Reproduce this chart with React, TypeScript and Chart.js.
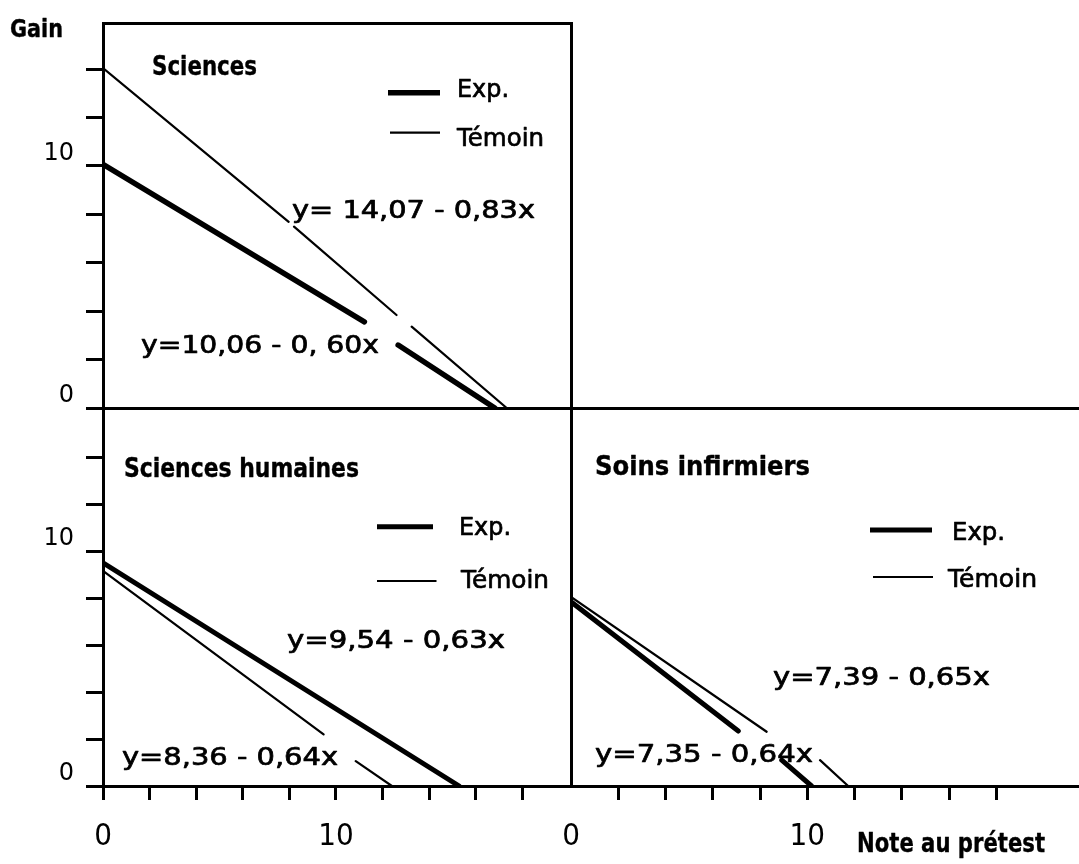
import React, { useEffect, useRef } from "react";
import { Chart, registerables } from "chart.js";

Chart.register(...registerables);

// ---------- data ----------
const SERIES_LABELS = ["Exp.", "Témoin"];
const PANEL_TITLES = ["Sciences", "Sciences humaines", "Soins infirmiers"];
const Y_AXIS_TITLE = "Gain";
const X_AXIS_TITLE = "Note au prétest";
const X_TICK_LABELS = [0, 10];
const Y_TICK_LABELS = [0, 10];

const SCI_EQUATIONS = ["y= 14,07 - 0,83x", "y=10,06 - 0, 60x"];
const HUM_EQUATIONS = ["y=9,54 - 0,63x", "y=8,36 - 0,64x"];
const SOI_EQUATIONS = ["y=7,39 - 0,65x", "y=7,35 - 0,64x"];

// Sciences
const SCI_EXP_X = [0, 11.22, 11.95, 12.67, 16.82];
const SCI_EXP_Y = [10.06, 3.56, null, 2.6, 0];
const SCI_TEM_X = [0, 7.97, 8.08, 8.2, 12.6, 12.92, 13.25, 17.33];
const SCI_TEM_Y = [14.04, 7.69, null, 7.49, 3.84, null, 3.36, 0];
// Sciences humaines
const HUM_EXP_X = [0, 15.29];
const HUM_EXP_Y = [9.5, 0];
const HUM_TEM_X = [0, 9.47, 10.16, 10.85, 12.4];
const HUM_TEM_Y = [9.16, 2.2, null, 1.06, 0];
// Soins infirmiers
const SOI_EXP_X = [0, 7.08, 8.0, 8.92, 10.18];
const SOI_EXP_Y = [7.84, 2.34, null, 1.1, 0];
const SOI_TEM_X = [0, 8.28, 9.41, 10.54, 11.73];
const SOI_TEM_Y = [8.05, 2.31, null, 1.1, 0];

// ---------- styles / layout ----------
const FONT = "'DejaVu Sans', sans-serif";
const X_TICK_FONT = "'DejaVu Sans Condensed', 'DejaVu Sans', sans-serif";
const Y_TICK_FONT = "'DejaVu Sans', sans-serif";
const BLACK = "#000";

const panelTextPlugin = {
  id: "panelText",
  afterDraw(chart: any, _args: any, opts: any) {
    const ctx = chart.ctx;
    const ox = opts.offsetX || 0;
    const oy = opts.offsetY || 0;
    ctx.save();
    ctx.fillStyle = BLACK;
    ctx.strokeStyle = BLACK;
    ctx.textBaseline = "alphabetic";
    ctx.textAlign = "left";
    const drawText = (text: string, x: number, base: number, w: number, size: number, bold: boolean, heavy: number) => {
      ctx.font = `${bold ? "bold " : ""}${size}px ${FONT}`;
      const m = ctx.measureText(text).width || 1;
      ctx.save();
      ctx.translate(x - ox, base - oy);
      ctx.scale(w / m, 1);
      ctx.fillText(text, 0, 0);
      if (heavy > 0) {
        ctx.lineWidth = heavy;
        ctx.lineJoin = "round";
        ctx.strokeText(text, 0, 0);
      }
      ctx.restore();
    };
    (opts.items || []).forEach((it: any) =>
      drawText(it.text, it.x, it.base, it.w, it.size, !!it.bold, it.heavy || 0)
    );
    const lg = opts.legend;
    if (lg) {
      chart.data.datasets.forEach((ds: any, i: number) => {
        const ln = lg.lines[i];
        const tx = lg.texts[i];
        ctx.beginPath();
        ctx.lineWidth = ds.borderWidth;
        ctx.strokeStyle = ds.borderColor;
        ctx.lineCap = "butt";
        ctx.moveTo(ln.x1 - ox, ln.y - oy);
        ctx.lineTo(ln.x2 - ox, ln.y - oy);
        ctx.stroke();
        drawText(ds.label, tx.x, tx.base, tx.w, lg.size, false, 0.7);
      });
    }
    ctx.restore();
  },
};

const zeroPad = (s: any) => {
  s.paddingLeft = 0;
  s.paddingRight = 0;
  s.paddingTop = 0;
  s.paddingBottom = 0;
};

const makeDataset = (label: string, xs: number[], ys: (number | null)[], width: number) => ({
  label,
  data: xs.map((x, i) => ({ x, y: ys[i] })),
  borderColor: BLACK,
  borderWidth: width,
  pointRadius: 0,
  pointHoverRadius: 0,
  fill: false,
  tension: 0,
  spanGaps: false,
  borderCapStyle: "round",
  borderJoinStyle: "round",
});

function buildConfig(p: any) {
  const scales: any = {
    x: {
      type: "linear",
      position: "bottom",
      min: 0,
      max: p.xMax,
      ticks: {
        display: p.xTicks,
        stepSize: 2,
        autoSkip: false,
        includeBounds: false,
        maxRotation: 0,
        minRotation: 0,
        padding: 18,
        color: BLACK,
        font: { family: X_TICK_FONT, size: 31 },
        callback: (v: number) => (X_TICK_LABELS.includes(v) ? String(v) : ""),
      },
      grid: {
        display: p.xTicks,
        drawOnChartArea: false,
        drawTicks: p.xTicks,
        tickLength: 14,
        tickWidth: 3,
        color: BLACK,
        tickColor: (c: any) => {
          const v = c.tick ? c.tick.value : 0;
          if (v >= 20) return "rgba(0,0,0,0)";
          if (p.hideX0 && v === 0) return "rgba(0,0,0,0)";
          return BLACK;
        },
      },
      border: { display: true, width: 3, color: BLACK },
      afterFit: (s: any) => {
        s.height = p.xHeight;
        zeroPad(s);
      },
    },
    y: {
      type: "linear",
      position: "left",
      min: 0,
      max: p.yMax,
      ticks: {
        display: p.yTicks,
        stepSize: 2,
        autoSkip: false,
        includeBounds: false,
        padding: 12,
        labelOffset: -12,
        color: BLACK,
        font: { family: Y_TICK_FONT, size: 24 },
        callback: (v: number) => (Y_TICK_LABELS.includes(v) ? String(v) : ""),
      },
      grid: {
        display: p.yTicks,
        drawOnChartArea: false,
        drawTicks: p.yTicks,
        tickLength: 17,
        tickWidth: 3,
        color: BLACK,
        tickColor: (c: any) => {
          const v = c.tick ? c.tick.value : 0;
          return v > 14 ? "rgba(0,0,0,0)" : BLACK;
        },
      },
      border: { display: true, width: 3, color: BLACK },
      afterFit: (s: any) => {
        s.width = p.yWidth;
        zeroPad(s);
      },
    },
    x2: {
      type: "linear",
      axis: "x",
      position: "top",
      display: true,
      min: 0,
      max: 1,
      ticks: { display: false },
      grid: { display: false, drawTicks: false, drawOnChartArea: false },
      border: { display: true, width: 3, color: BLACK },
      afterFit: (s: any) => {
        s.height = 0;
        zeroPad(s);
      },
    },
  };
  if (p.frameRight) {
    scales.y2 = {
      type: "linear",
      axis: "y",
      position: "right",
      display: true,
      min: 0,
      max: 1,
      ticks: { display: false },
      grid: { display: false, drawTicks: false, drawOnChartArea: false },
      border: { display: true, width: 3, color: BLACK },
      afterFit: (s: any) => {
        s.width = 0;
        zeroPad(s);
      },
    };
  }
  return {
    type: "line",
    data: { datasets: p.datasets },
    options: {
      responsive: false,
      animation: false,
      devicePixelRatio: 1,
      events: [],
      layout: { padding: p.padding, autoPadding: false },
      scales,
      plugins: {
        legend: { display: false },
        tooltip: { enabled: false },
        title: { display: false },
        panelText: {
          offsetX: p.left,
          offsetY: p.top,
          items: p.items,
          legend: p.legend,
        },
      },
    },
    plugins: [panelTextPlugin],
  } as any;
}

const EQ_SIZE = 24;
const EQ_HEAVY = 0.7;
const TITLE_SIZE = 27;

const PANELS = [
  {
    key: "sci",
    left: 0,
    top: 0,
    w: 575,
    h: 412,
    padding: { top: 23, right: 4, bottom: 4, left: 0 },
    yWidth: 103,
    xHeight: 0,
    xMax: 20.09,
    yMax: 15.9,
    xTicks: false,
    yTicks: true,
    hideX0: false,
    frameRight: true,
    datasets: [
      makeDataset(SERIES_LABELS[0], SCI_EXP_X, SCI_EXP_Y, 5.5),
      makeDataset(SERIES_LABELS[1], SCI_TEM_X, SCI_TEM_Y, 2.2),
    ],
    items: [
      { text: Y_AXIS_TITLE, x: 10, base: 37, w: 53, size: 24, bold: true, heavy: 0.4 },
      { text: PANEL_TITLES[0], x: 152, base: 75, w: 105, size: TITLE_SIZE, bold: true, heavy: 0.4 },
      { text: SCI_EQUATIONS[0], x: 292, base: 218, w: 243, size: EQ_SIZE, heavy: EQ_HEAVY },
      { text: SCI_EQUATIONS[1], x: 141, base: 353, w: 238, size: EQ_SIZE, heavy: EQ_HEAVY },
    ],
    legend: {
      size: 25,
      lines: [
        { x1: 388, x2: 440, y: 92.7 },
        { x1: 390, x2: 440, y: 132.7 },
      ],
      texts: [
        { x: 457, base: 97, w: 52 },
        { x: 457, base: 146, w: 87 },
      ],
    },
  },
  {
    key: "hum",
    left: 0,
    top: 400,
    w: 575,
    h: 464,
    padding: { top: 8, right: 4, bottom: 0, left: 0 },
    yWidth: 103,
    xHeight: 78,
    xMax: 20.09,
    yMax: 16.09,
    xTicks: true,
    yTicks: true,
    hideX0: false,
    frameRight: true,
    datasets: [
      makeDataset(SERIES_LABELS[0], HUM_EXP_X, HUM_EXP_Y, 5),
      makeDataset(SERIES_LABELS[1], HUM_TEM_X, HUM_TEM_Y, 2.2),
    ],
    items: [
      { text: PANEL_TITLES[1], x: 124, base: 477, w: 235, size: TITLE_SIZE, bold: true, heavy: 0.4 },
      { text: HUM_EQUATIONS[0], x: 287, base: 648, w: 218, size: EQ_SIZE, heavy: EQ_HEAVY },
      { text: HUM_EQUATIONS[1], x: 122, base: 765, w: 216, size: EQ_SIZE, heavy: EQ_HEAVY },
    ],
    legend: {
      size: 25,
      lines: [
        { x1: 377, x2: 433, y: 526.7 },
        { x1: 377, x2: 436.5, y: 581 },
      ],
      texts: [
        { x: 459, base: 535, w: 52 },
        { x: 461, base: 588, w: 88 },
      ],
    },
  },
  {
    key: "soi",
    left: 560,
    top: 400,
    w: 519,
    h: 464,
    padding: { top: 8, right: 0, bottom: 0, left: 0 },
    yWidth: 11,
    xHeight: 78,
    xMax: 21.5,
    yMax: 16.09,
    xTicks: true,
    yTicks: false,
    hideX0: true,
    frameRight: false,
    datasets: [
      makeDataset(SERIES_LABELS[0], SOI_EXP_X, SOI_EXP_Y, 5),
      makeDataset(SERIES_LABELS[1], SOI_TEM_X, SOI_TEM_Y, 2.2),
    ],
    items: [
      { text: PANEL_TITLES[2], x: 595, base: 475, w: 215, size: TITLE_SIZE, bold: true, heavy: 0.4 },
      { text: SOI_EQUATIONS[0], x: 773, base: 685, w: 217, size: EQ_SIZE, heavy: EQ_HEAVY },
      { text: SOI_EQUATIONS[1], x: 595, base: 762, w: 218, size: EQ_SIZE, heavy: EQ_HEAVY },
      { text: X_AXIS_TITLE, x: 857, base: 852, w: 188, size: 26, bold: true, heavy: 0.4 },
    ],
    legend: {
      size: 25,
      lines: [
        { x1: 870, x2: 932, y: 530 },
        { x1: 873, x2: 933, y: 577 },
      ],
      texts: [
        { x: 952, base: 540, w: 53 },
        { x: 948, base: 587, w: 89 },
      ],
    },
  },
];

function Panel({ spec }: { spec: any }) {
  const ref = useRef<HTMLCanvasElement | null>(null);
  useEffect(() => {
    if (!ref.current) return;
    const chart = new Chart(ref.current, buildConfig(spec));
    return () => chart.destroy();
  }, [spec]);
  return (
    <canvas
      ref={ref}
      width={spec.w}
      height={spec.h}
      style={{ position: "absolute", left: spec.left, top: spec.top, width: spec.w, height: spec.h }}
    />
  );
}

export default function App() {
  return (
    <div
      style={{
        position: "fixed",
        left: 0,
        top: 0,
        width: 1079,
        height: 864,
        background: "#fff",
        overflow: "hidden",
      }}
    >
      {PANELS.map((p) => (
        <Panel key={p.key} spec={p} />
      ))}
    </div>
  );
}
